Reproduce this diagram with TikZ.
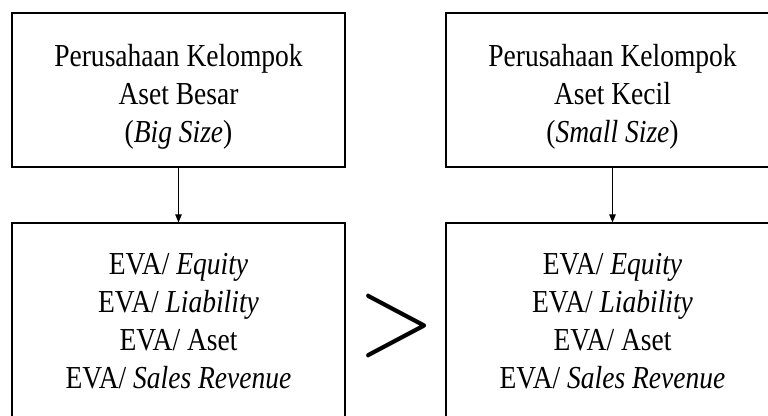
\documentclass[tikz,border=0pt]{standalone}
\usepackage{graphicx}
\usepackage{fontspec}
\setmainfont{Liberation Serif}
\usetikzlibrary{arrows.meta}
\begin{document}
\begin{tikzpicture}[x=1pt,y=1pt,
  box/.style={draw=black, line width=1.2pt, inner sep=0pt, minimum width=333pt},
  boxtext/.style={inner sep=0pt, anchor=base},
  link/.style={draw=black, line width=1pt, -{Triangle[length=8pt,width=6.5pt]}}]
\useasboundingbox (0,0) rectangle (768,415);

% group boxes: top row (company groups), bottom row (EVA ratios)
\node[box, minimum height=154pt] (bigtop)   at (178.5,325) {};
\node[box, minimum height=154pt] (smalltop) at (612.5,325) {};
\node[box, minimum height=207pt] (bigbot)   at (178.5,88.5) {};
\node[box, minimum height=207pt] (smallbot) at (612.5,88.5) {};

% texts inside the boxes
\node[boxtext, font=\fontsize{32}{38}\selectfont] (bigtoptxt) at (178.5,348)
  {\scalebox{0.86}[1]{\begin{tabular}[t]{@{}c@{}}Perusahaan Kelompok\\Aset Besar\\(\textit{Big Size})\end{tabular}}};
\node[boxtext, font=\fontsize{32}{38}\selectfont] (smalltoptxt) at (612.5,348)
  {\scalebox{0.86}[1]{\begin{tabular}[t]{@{}c@{}}Perusahaan Kelompok\\Aset Kecil\\(\textit{Small Size})\end{tabular}}};
\node[boxtext, font=\fontsize{32}{37.7}\selectfont] (bigbottxt) at (178.5,140)
  {\scalebox{0.86}[1]{\begin{tabular}[t]{@{}c@{}}EVA/ \textit{Equity}\\EVA/ \textit{Liability}\\EVA/ Aset\\EVA/ \textit{Sales Revenue}\end{tabular}}};
\node[boxtext, font=\fontsize{32}{37.7}\selectfont] (smallbottxt) at (612.5,140)
  {\scalebox{0.86}[1]{\begin{tabular}[t]{@{}c@{}}EVA/ \textit{Equity}\\EVA/ \textit{Liability}\\EVA/ Aset\\EVA/ \textit{Sales Revenue}\end{tabular}}};

% comparison sign between the two result boxes
\node[inner sep=0pt] (gt) at (397,89) {\scalebox{9.8}[11]{$>$}};

% connectors
\draw[link] (bigtop.south) -- (bigbot.north);
\draw[link] (smalltop.south) -- (smallbot.north);
\end{tikzpicture}
\end{document}
